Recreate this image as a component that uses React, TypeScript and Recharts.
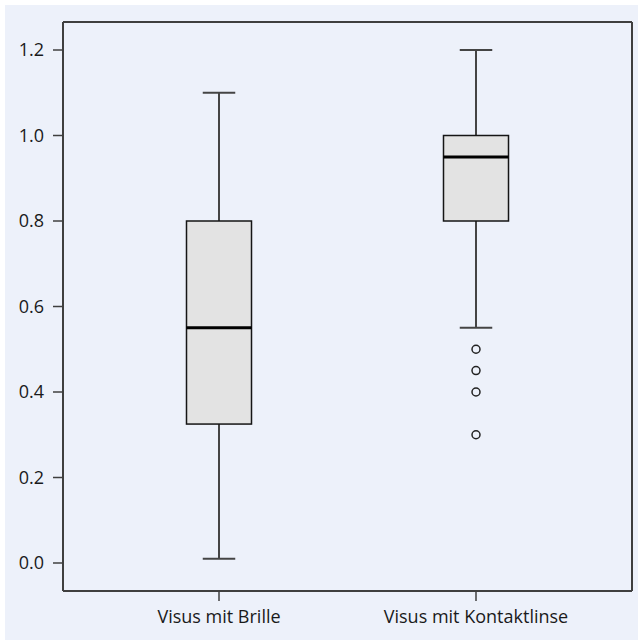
import React from "react";
import { ComposedChart, Bar, Scatter, XAxis, YAxis, CartesianGrid } from "recharts";

const categories = ["Visus mit Brille", "Visus mit Kontaktlinse"];
const mins = [0.01, 0.55];
const q1s = [0.325, 0.8];
const medians = [0.55, 0.95];
const q3s = [0.8, 1.0];
const maxs = [1.1, 1.2];
const outlierCategory = ["Visus mit Kontaktlinse", "Visus mit Kontaktlinse", "Visus mit Kontaktlinse", "Visus mit Kontaktlinse"];
const outlierValues = [0.5, 0.45, 0.4, 0.3];
const yTicks = [0, 0.2, 0.4, 0.6, 0.8, 1.0, 1.2];

const boxData = categories.map((name, i) => ({
  name,
  range: [mins[i], maxs[i]],
  min: mins[i],
  q1: q1s[i],
  median: medians[i],
  q3: q3s[i],
  max: maxs[i],
}));

const outlierData = outlierValues.map((v, i) => ({ name: outlierCategory[i], v }));

const FONT = "'Open Sans', sans-serif";
const FRAME = "#3f3f3f";

const BoxShape = (props: any) => {
  const { x, y, width, height, payload } = props;
  if (!payload || height == null) return null;
  const lo = payload.min;
  const hi = payload.max;
  const py = (v: number) => y + ((hi - v) / (hi - lo)) * height;
  const cx = x + width / 2;
  const capHalf = width / 4;
  const yMax = py(payload.max);
  const yQ3 = py(payload.q3);
  const yMed = py(payload.median);
  const yQ1 = py(payload.q1);
  const yMin = py(payload.min);
  return (
    <g>
      <line x1={cx} x2={cx} y1={yMax} y2={yQ3} stroke="#444" strokeWidth={2} />
      <line x1={cx} x2={cx} y1={yQ1} y2={yMin} stroke="#444" strokeWidth={2} />
      <line x1={cx - capHalf} x2={cx + capHalf} y1={yMax} y2={yMax} stroke="#444" strokeWidth={2} />
      <line x1={cx - capHalf} x2={cx + capHalf} y1={yMin} y2={yMin} stroke="#444" strokeWidth={2} />
      <rect x={x} y={yQ3} width={width} height={yQ1 - yQ3} fill="#e3e3e3" stroke="#151515" strokeWidth={1.5} />
      <line x1={x} x2={x + width} y1={yMed} y2={yMed} stroke="#000" strokeWidth={3} />
    </g>
  );
};

const OutlierShape = (props: any) => {
  const { cx, cy } = props;
  return <circle cx={cx} cy={cy} r={4} fill="none" stroke="#222" strokeWidth={1.5} />;
};

export default function App() {
  return (
    <div
      style={{
        position: "absolute",
        left: 5,
        top: 5,
        width: 633,
        height: 635,
        background: "#edf1fa",
      }}
    >
      <ComposedChart
        width={633}
        height={635}
        data={boxData}
        margin={{ top: 17, right: 6, left: 0, bottom: 0 }}
      >
        <CartesianGrid
          stroke={FRAME}
          strokeWidth={2}
          horizontalCoordinatesGenerator={(p: any) => [p.offset.top]}
          verticalCoordinatesGenerator={(p: any) => [p.offset.left + p.offset.width]}
        />
        <XAxis
          dataKey="name"
          type="category"
          allowDuplicatedCategory={false}
          padding={{ left: 27.5, right: 27.5 }}
          height={49}
          tickSize={10}
          tickMargin={9}
          stroke={FRAME}
          strokeWidth={2}
          tick={{ fill: "#1a1a1a", fontSize: 18, fontFamily: FONT }}
          tickLine={{ stroke: FRAME, strokeWidth: 1.5 }}
        />
        <YAxis
          type="number"
          domain={[-0.0655, 1.2655]}
          ticks={yTicks}
          allowDataOverflow
          width={58}
          tickSize={10}
          tickMargin={9}
          stroke={FRAME}
          strokeWidth={2}
          tickFormatter={(v: number) => v.toFixed(1)}
          tick={{ fill: "#1a1a1a", fontSize: 18, fontFamily: FONT }}
          tickLine={{ stroke: FRAME, strokeWidth: 1.5 }}
        />
        <Bar
          dataKey="range"
          barSize={65}
          fill="transparent"
          shape={BoxShape}
          isAnimationActive={false}
        />
        <Scatter
          data={outlierData}
          dataKey="v"
          shape={OutlierShape}
          isAnimationActive={false}
        />
      </ComposedChart>
    </div>
  );
}
